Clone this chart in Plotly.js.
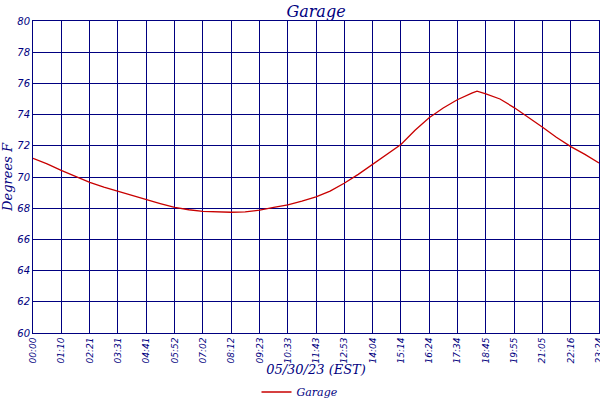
<!DOCTYPE html>
<html>
<head>
<meta charset="utf-8">
<script src="https://cdn.plot.ly/plotly-3.0.1.min.js"></script>
<style>html,body{margin:0;padding:0;background:#fff;}#chart{width:600px;height:400px;}</style>
</head>
<body>
<div id="chart"></div>
<script>
var times = ["00:00","00:35","01:10","01:45","02:21","02:56","03:31","04:06","04:41","05:16","05:52","06:27","07:02","07:37","08:12","08:47","09:23","09:58","10:33","11:08","11:43","12:18","12:53","13:28","14:04","14:39","15:14","15:49","16:24","16:59","17:34","18:10","18:23","18:45","19:20","19:55","20:30","21:05","21:40","22:16","22:51","23:26"];
var temps = [71.2,70.84,70.42,70.05,69.66,69.35,69.08,68.82,68.55,68.3,68.05,67.9,67.8,67.76,67.74,67.76,67.88,68.05,68.22,68.45,68.73,69.1,69.6,70.17,70.8,71.42,72.08,73.0,73.8,74.42,74.95,75.38,75.5,75.33,75.0,74.45,73.85,73.2,72.55,71.95,71.45,70.9];
var tickLabels = ["00:00","01:10","02:21","03:31","04:41","05:52","07:02","08:12","09:23","10:33","11:43","12:53","14:04","15:14","16:24","17:34","18:45","19:55","21:05","22:16","23:24"];
var yTicks = [60,62,64,66,68,70,72,74,76,78,80];

function toMin(s){var p=s.split(":");return (+p[0])*60+(+p[1]);}
var xs = times.map(toMin);
var tickVals = tickLabels.map(toMin);
tickVals[tickVals.length-1] = 1405;

var navy = "#000080";
var trace = {
  x: xs, y: temps, type: "scatter", mode: "lines", name: "Garage",
  line: {color: "#c80000", width: 1.3}
};
var layout = {
  width: 600, height: 400,
  margin: {l: 33, r: 1, t: 21, b: 67},
  paper_bgcolor: "#fff", plot_bgcolor: "#fff",
  title: {text: "Garage", xref: "paper", x: 0.5, xanchor: "center", y: 0.985, yanchor: "top",
          font: {family: "DejaVu Serif", size: 16, color: navy, style: "italic"}},
  xaxis: {
    range: [0, 1406], automargin: false, ticklabeloverflow: "allow",
    tickvals: tickVals, ticktext: tickLabels, tickangle: -90,
    tickfont: {family: "DejaVu Sans", size: 9, color: navy, style: "italic"},
    showgrid: true, gridcolor: navy, gridwidth: 1,
    showline: true, linecolor: navy, linewidth: 1, mirror: true,
    zeroline: false, ticks: "", ticklen: 0,
    title: {text: "05/30/23 (EST)", standoff: 3,
            font: {family: "DejaVu Serif", size: 13, color: navy, style: "italic"}}
  },
  yaxis: {
    range: [60, 80], tickvals: yTicks, automargin: false,
    tickfont: {family: "DejaVu Sans", size: 10, color: navy, style: "italic"},
    showgrid: true, gridcolor: navy, gridwidth: 1,
    showline: true, linecolor: navy, linewidth: 1, mirror: true,
    zeroline: false, ticks: "", ticklen: 0,
    title: {text: "Degrees F", standoff: 4,
            font: {family: "DejaVu Serif", size: 13, color: navy, style: "italic"}}
  },
  showlegend: true,
  legend: {orientation: "h", xref: "container", yref: "container",
           x: 0.5, xanchor: "center", y: 0.02, yanchor: "middle",
           font: {family: "DejaVu Serif", size: 11, color: navy, style: "italic"},
           itemwidth: 30, bgcolor: "rgba(0,0,0,0)"}
};
Plotly.newPlot("chart", [trace], layout, {staticPlot: true, displayModeBar: false});
</script>
</body>
</html>
